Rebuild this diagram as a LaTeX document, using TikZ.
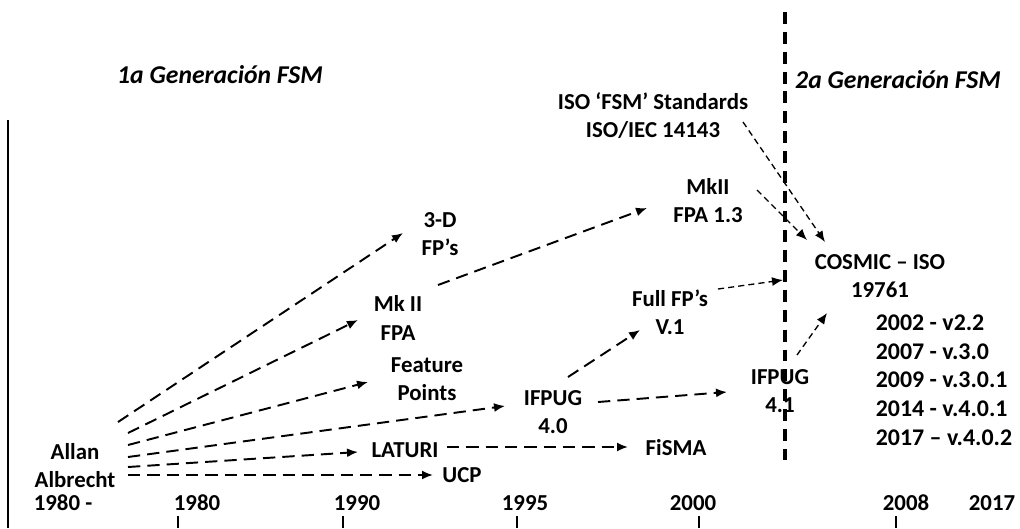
\documentclass[tikz,border=0pt]{standalone}
\usepackage{fontspec}
\setmainfont{Carlito}
\usetikzlibrary{arrows.meta}

\begin{document}
\begin{tikzpicture}[x=0.02cm,y=-0.02cm,>={Latex[length=2.2mm,width=1.8mm]},
  every node/.style={font=\fontsize{13}{16}\selectfont\bfseries,align=center,inner sep=2pt},
  gen/.style={font=\fontsize{14.6}{16}\selectfont\bfseries\itshape},
  arr/.style={->,line width=1.1pt,dash pattern=on 7pt off 4pt},
  fine/.style={->,line width=0.75pt,dash pattern=on 3.5pt off 2.3pt},
  tick/.style={line width=0.6pt}]

\useasboundingbox (0,0) rectangle (1020,528);

\node[gen] (gen1) at (220,75) {1a Generación FSM};
\node[gen] (gen2) at (898,80) {2a Generación FSM};

\node (allan) at (75,466) {Allan\\Albrecht};
\node (threed) at (440,234) {3-D\\FP’s};
\node (mk2) at (398,318) {Mk II\\FPA};
\node (feat) at (427,379) {Feature\\Points};
\node (ifpug40) at (553,412) {IFPUG\\4.0};
\node (laturi) at (405,450) {LATURI};
\node (ucp) at (462,475) {UCP};
\node (fisma) at (676,448) {FiSMA};
\node (fullfp) at (670,312) {Full FP’s\\V.1};
\node (mk13) at (708,201) {MkII\\FPA 1.3};
\node (iso) at (653,116) {ISO ‘FSM’ Standards\\ISO/IEC 14143};
\node (ifpug41) at (780,391) {IFPUG\\4.1};
\node (cosmic) at (880,276) {COSMIC – ISO\\19761};
\node[align=left,anchor=west,font=\fontsize{13.6}{16.3}\selectfont\bfseries] (vers) at (872,380)
  {2002 - v2.2\\2007 - v.3.0\\2009 - v.3.0.1\\2014 - v.4.0.1\\2017 – v.4.0.2};

% time axis
\node (y0) at (63,503) {1980 -};
\node (y80) at (197,503) {1980};
\node (y90) at (357,503) {1990};
\node (y95) at (525,503) {1995};
\node (y00) at (693,503) {2000};
\node (y08) at (906,503) {2008};
\node (y17) at (992,503) {2017};

\foreach \x in {178,343,517,699,896}
  \draw[tick] (\x,516) -- (\x,528);

\draw[line width=0.85pt] (8,120) -- (8,528);
\draw[line width=1.9pt,dash pattern=on 6.8pt off 4.5pt] (785,12) -- (785,460);

\draw[arr] ([shift={(43,-44)}]allan.center) -- ([shift={(-37,-1)}]threed.center);
\draw[arr] ([shift={(53,-33)}]allan.center) -- ([shift={(-40,2)}]mk2.center);
\draw[arr] ([shift={(53,-21)}]allan.center) -- ([shift={(-59,3)}]feat.center);
\draw[arr] ([shift={(53,-9)}]allan.center) -- ([shift={(-48,-6)}]ifpug40.center);
\draw[arr] ([shift={(53,1)}]allan.center) -- ([shift={(-47,2)}]laturi.center);
\draw[arr] ([shift={(53,9)}]allan.center) -- ([shift={(-29,0)}]ucp.center);

\draw[arr] ([shift={(40,-33)}]mk2.center) -- ([shift={(-61,7)}]mk13.center);
\draw[arr] ([shift={(42,-3)}]laturi.center) -- ([shift={(-48,-1)}]fisma.center);
\draw[arr] ([shift={(45,-10)}]ifpug40.center) -- ([shift={(-53,1)}]ifpug41.center);
\draw[arr] ([shift={(15,-35)}]ifpug40.center) -- ([shift={(-30,18)}]fullfp.center);

\draw[fine] ([shift={(48,-23)}]fullfp.center) -- ([shift={(-97,4)}]cosmic.center);
\draw[fine] ([shift={(17,-36)}]ifpug41.center) -- ([shift={(-53,37)}]cosmic.center);
\draw[fine] ([shift={(49,-11)}]mk13.center) -- ([shift={(-73,-36)}]cosmic.center);
\draw[fine] ([shift={(90,6)}]iso.center) -- ([shift={(-55,-34)}]cosmic.center);

\end{tikzpicture}
\end{document}
